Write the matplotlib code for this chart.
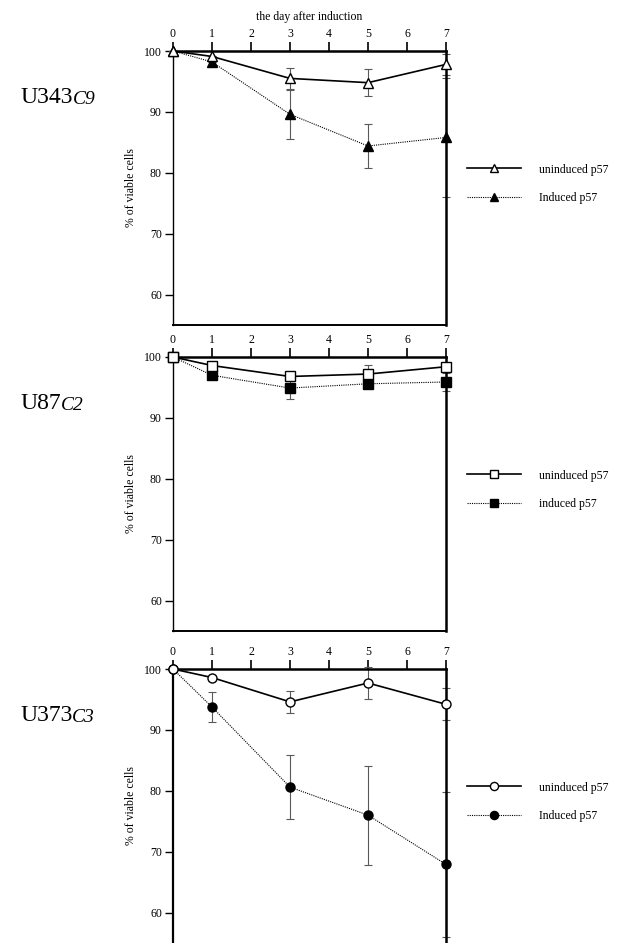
import matplotlib
matplotlib.use("Agg")
import matplotlib.pyplot as plt
from matplotlib.lines import Line2D

plt.rcParams['font.family'] = ['Liberation Serif', 'DejaVu Serif']

days = [0, 1, 3, 5, 7]
day_ticks = [0, 1, 2, 3, 4, 5, 6, 7]
y_ticks = [60, 70, 80, 90, 100]

# U343C9
u343_uninduced = [100, 99.1, 95.5, 94.8, 97.8]
u343_uninduced_err = [0, 0, 1.7, 2.2, 1.7]
u343_induced = [100, 98.2, 89.6, 84.4, 85.8]
u343_induced_err = [0, 0, 4.0, 3.6, 9.8]

# U87C2
u87_uninduced = [100, 98.6, 96.8, 97.2, 98.4]
u87_uninduced_err = [0, 0, 0, 1.5, 0]
u87_induced = [100, 97.0, 94.9, 95.6, 95.9]
u87_induced_err = [0, 0, 1.8, 0, 1.5]

# U373C3
u373_uninduced = [100, 98.6, 94.6, 97.7, 94.2]
u373_uninduced_err = [0, 0, 1.75, 2.7, 2.6]
u373_induced = [100, 93.75, 80.6, 76.0, 67.9]
u373_induced_err = [0, 2.45, 5.2, 8.15, 11.9]

panels = [
    dict(name="U343", clone="C9", marker="^", up=u343_uninduced, up_err=u343_uninduced_err,
         ind=u343_induced, ind_err=u343_induced_err,
         labels=["uninduced p57", "Induced p57"], top=51),
    dict(name="U87", clone="C2", marker="s", up=u87_uninduced, up_err=u87_uninduced_err,
         ind=u87_induced, ind_err=u87_induced_err,
         labels=["uninduced p57", "induced p57"], top=357),
    dict(name="U373", clone="C3", marker="o", up=u373_uninduced, up_err=u373_uninduced_err,
         ind=u373_induced, ind_err=u373_induced_err,
         labels=["uninduced p57", "Induced p57"], top=669),
]

W, H = 635, 943
fig = plt.figure(figsize=(W / 100, H / 100), dpi=100)

x0, x1 = 173, 446
ph = 274
for i, p in enumerate(panels):
    top = p["top"]
    ax = fig.add_axes([x0 / W, 1 - (top + ph) / H, (x1 - x0) / W, ph / H])
    ax.set_xlim(0, 7)
    ax.set_ylim(55, 100)
    ms = 7 if p["marker"] == "^" else 6.5
    # error bars
    ax.errorbar(days, p["ind"], yerr=p["ind_err"], fmt="none", ecolor="0.35",
                elinewidth=0.8, capsize=3, capthick=0.8, clip_on=False, zorder=2)
    ax.errorbar(days, p["up"], yerr=p["up_err"], fmt="none", ecolor="0.35",
                elinewidth=0.8, capsize=3, capthick=0.8, clip_on=False, zorder=2)
    ax.plot(days, p["ind"], linestyle=(0, (1, 1)), color="black", lw=0.8,
            marker=p["marker"], ms=ms, mfc="black", mec="black", clip_on=False, zorder=3)
    ax.plot(days, p["up"], linestyle="-", color="black", lw=1.2,
            marker=p["marker"], ms=ms, mfc="white", mec="black", mew=1.0, clip_on=False, zorder=4)

    ax.set_xticks(day_ticks)
    ax.set_yticks(y_ticks)
    ax.xaxis.tick_top()
    ax.tick_params(axis="x", direction="out", length=6.5, width=1.2, labelsize=8.5, pad=1.5)
    ax.tick_params(axis="y", direction="out", length=6, width=1.0, labelsize=8.5, pad=2)
    ax.set_ylabel("% of viable cells", fontsize=8.5, labelpad=5)
    for side in ["top", "right"]:
        ax.spines[side].set_linewidth(1.8)
    ax.spines["left"].set_linewidth(1.0 if i < 2 else 1.6)
    ax.spines["bottom"].set_linewidth(1.4)
    if i == 2:
        ax.spines["bottom"].set_visible(False)
    if i == 0:
        ax.set_title("the day after induction", fontsize=8.5, pad=6)

    handles = [
        Line2D([], [], linestyle="-", color="black", lw=1.2, marker=p["marker"], ms=ms * 0.9,
               mfc="white", mec="black"),
        Line2D([], [], linestyle=(0, (1, 1)), color="black", lw=0.8, marker=p["marker"],
               ms=ms * 0.9, mfc="black", mec="black"),
    ]
    ax.legend(handles, p["labels"], loc="center left", bbox_to_anchor=(1.06, 0.515),
              frameon=False, fontsize=8.5, handlelength=4.6, handletextpad=1.5,
              labelspacing=1.4, borderaxespad=0)

    t = fig.text(20 / W, 1 - (top + 52) / H, p["name"], fontsize=17, va="baseline", ha="left")
    ax.annotate(p["clone"], xy=(1, 0), xycoords=t, fontsize=14, style="italic",
                va="bottom", ha="left")

fig.savefig("out.png", dpi=100)
